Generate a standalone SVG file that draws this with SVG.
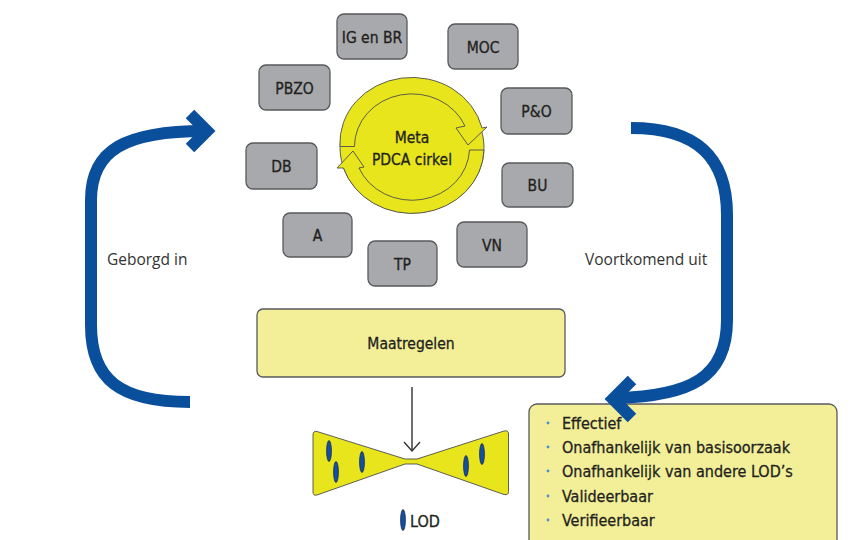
<svg xmlns="http://www.w3.org/2000/svg" width="859" height="540" viewBox="0 0 859 540">
<defs>
<style>
.box rect{fill:#a7a9ac;stroke:#58595b;stroke-width:1.3}
.t{font-family:"DejaVu Sans Condensed","DejaVu Sans",sans-serif;font-stretch:condensed;font-size:15.5px;fill:#231f20;stroke:#231f20;stroke-width:0.3;text-anchor:middle}
.tl{font-family:"DejaVu Sans Condensed","DejaVu Sans",sans-serif;font-stretch:condensed;font-size:16px;fill:#231f20;stroke:#231f20;stroke-width:0.3}
.side{font-family:"Open Sans","Liberation Sans",sans-serif;font-size:15.5px;fill:#333}
.ybox{fill:#f3ef98;stroke:#58595b;stroke-width:1.3}
.yel{fill:#e8e51c;stroke:#4d4d4d;stroke-width:0.9}
.lod{fill:#1450a0;stroke:#1a2a50;stroke-width:0.8}
.blue{fill:none;stroke:#0a4f9b;stroke-width:12}
.dot{fill:#4a8fd4}
</style>
</defs>
<rect width="859" height="540" fill="#fff"/>
<g id="nodes">
<g id="pdca">
<ellipse cx="412" cy="147.5" rx="72" ry="65.5" fill="#e8e51c" stroke="#4d4d4d" stroke-width="0.9"/>
<path class="yel" d="M340,146.5 A72,65.5 0 0 1 482,128 L487,127 L468,145 L456,128 L465,126 A57.5,52.5 0 0 0 354.5,146.5 Z"/>
<path class="yel" d="M484,150 A72,65.5 0 0 1 343.5,168 L337,168 L353,151 L364,167 L359,168 A57.5,52.5 0 0 0 469.5,150 Z"/>
<text class="t" x="412" y="143">Meta</text>
<text class="t" x="412" y="165">PDCA cirkel</text>
</g>
<g id="igbr" class="box"><rect x="337" y="14" width="70" height="45" rx="7"/><text class="t" x="372" y="42.5">IG en BR</text></g>
<g id="moc" class="box"><rect x="448" y="24" width="70" height="45" rx="7"/><text class="t" x="483" y="52.5">MOC</text></g>
<g id="pbzo" class="box"><rect x="259" y="65" width="71" height="45" rx="7"/><text class="t" x="294.5" y="93.5">PBZO</text></g>
<g id="po" class="box"><rect x="501" y="88" width="71" height="46" rx="7"/><text class="t" x="536.5" y="117">P&amp;O</text></g>
<g id="db" class="box"><rect x="246" y="143" width="71" height="46" rx="7"/><text class="t" x="281.5" y="172">DB</text></g>
<g id="bu" class="box"><rect x="502" y="163" width="71" height="44" rx="7"/><text class="t" x="537.5" y="191">BU</text></g>
<g id="a" class="box"><rect x="283" y="213" width="69" height="44" rx="7"/><text class="t" x="317.5" y="241">A</text></g>
<g id="tp" class="box"><rect x="368" y="241" width="69" height="45" rx="7"/><text class="t" x="402.5" y="269.5">TP</text></g>
<g id="vn" class="box"><rect x="457" y="222" width="70" height="45" rx="7"/><text class="t" x="492" y="250.5">VN</text></g>
<g id="maatregelen"><rect class="ybox" x="257" y="309" width="308" height="68" rx="6"/><text class="t" x="411" y="348.5">Maatregelen</text></g>
<g id="bowtie">
<path class="yel" stroke="#555" d="M317,431.5 L405,459 L417,459 L504,431 Q508.5,430 508.5,434 L508.5,491.5 Q508.5,495.5 504,494.5 L417,464 L405,464 L317,495 Q313,496 313,492 L313,435 Q313,430.5 317,431.5 Z"/>
<ellipse class="lod" cx="329" cy="451" rx="2.4" ry="10.5"/>
<ellipse class="lod" cx="336" cy="472" rx="2.4" ry="10.5"/>
<ellipse class="lod" cx="362" cy="462" rx="2.4" ry="10.5"/>
<ellipse class="lod" cx="466" cy="466" rx="2.4" ry="10.5"/>
<ellipse class="lod" cx="482" cy="454" rx="2.4" ry="10.5"/>
</g>
<g id="legend">
<ellipse class="lod" cx="403" cy="520" rx="2.4" ry="10.5"/>
<text class="tl" x="410" y="527">LOD</text>
</g>
<g id="criteria">
<rect class="ybox" x="529" y="404" width="308" height="146" rx="8"/>
<circle class="dot" cx="548" cy="423" r="1.4"/><text class="tl" x="562" y="429">Effectief</text>
<circle class="dot" cx="548" cy="447" r="1.4"/><text class="tl" x="562" y="453">Onafhankelijk van basisoorzaak</text>
<circle class="dot" cx="548" cy="471" r="1.4"/><text class="tl" x="562" y="477">Onafhankelijk van andere LOD’s</text>
<circle class="dot" cx="548" cy="496" r="1.4"/><text class="tl" x="562" y="502">Valideerbaar</text>
<circle class="dot" cx="548" cy="520" r="1.4"/><text class="tl" x="562" y="526">Verifieerbaar</text>
</g>
</g>
<g id="connectors">
<path class="blue" d="M190,402 C120,402 91,380 91,325 L91,200 C91,150 125,131 205,131"/>
<polyline class="blue" points="190,114 207,131 190,148"/>
<text class="side" x="107" y="265">Geborgd in</text>
<path class="blue" d="M631,128 C700,128 727,160 727,215 L727,320 C727,378 690,396 616,398"/>
<polyline class="blue" points="632,380 613,399 632,418"/>
<text class="side" x="585" y="265">Voortkomend uit</text>
<line x1="412" y1="387" x2="412" y2="451" stroke="#333" stroke-width="1.4"/>
<polyline points="404,442 412,451 420,442" fill="none" stroke="#333" stroke-width="1.4"/>
</g>
</svg>
